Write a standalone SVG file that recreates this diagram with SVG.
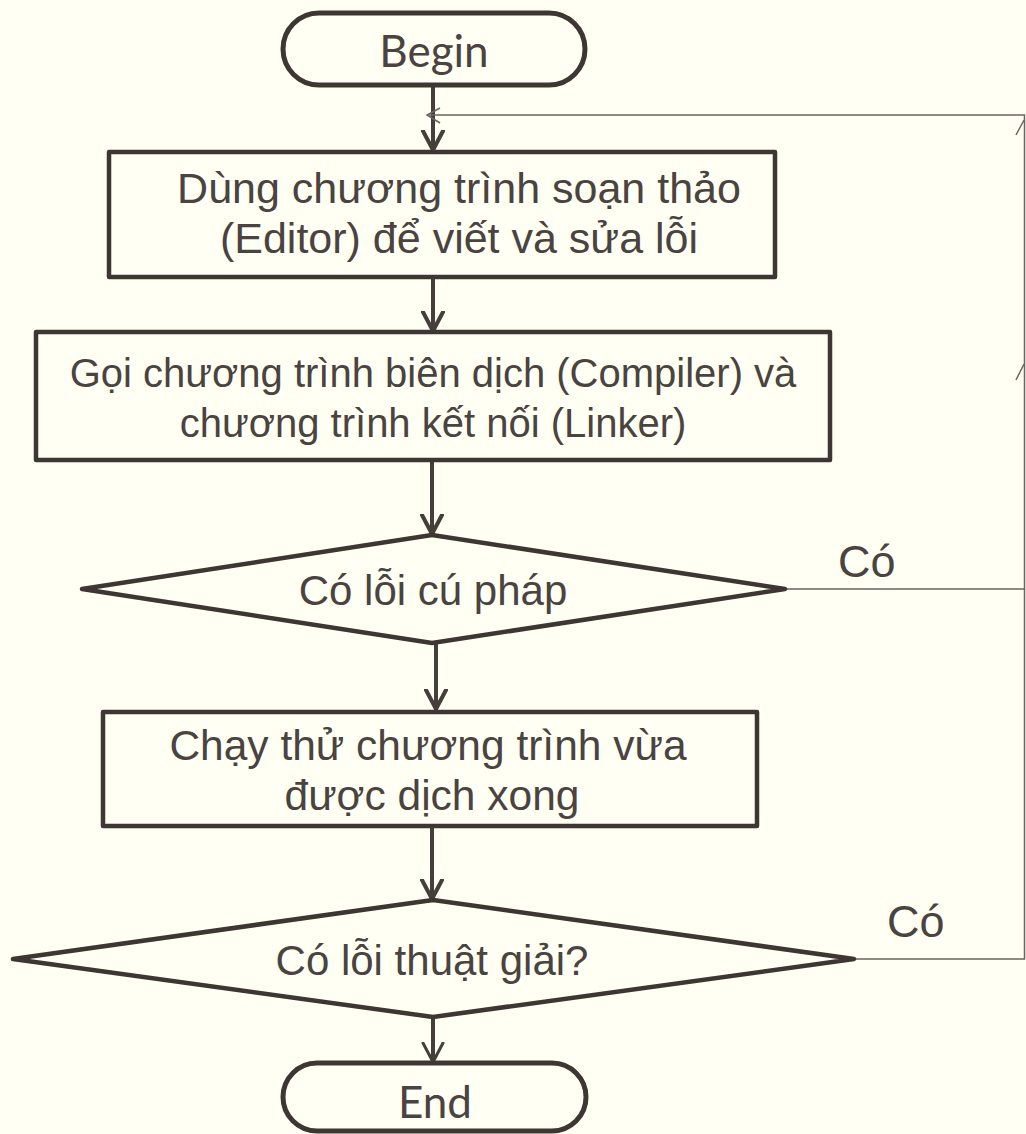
<svg xmlns="http://www.w3.org/2000/svg" width="1026" height="1134" viewBox="0 0 1026 1134">
  <defs>
    <style>
      .bg { fill: #FFFFF3; }
      .box { fill: none; stroke: #3d3633; stroke-width: 4.5; stroke-linejoin: round; }
      .term { fill: none; stroke: #3d3633; stroke-width: 5; }
      .flow { fill: none; stroke: #453e3b; stroke-width: 4; }
      .loop { fill: none; stroke: #6b6460; stroke-width: 1.5; }
      .txt { font-family: "Liberation Sans", Arial, sans-serif; fill: #4a4340; text-anchor: middle; }
      .term-txt { font-family: Lato, "Open Sans", sans-serif; font-size: 44px; fill: #4a4340; text-anchor: middle; }
      .lbl { font-family: "Liberation Sans", Arial, sans-serif; font-size: 45px; fill: #4a4340; }
    </style>
    <marker id="arrow" viewBox="0 0 24 24" markerWidth="24" markerHeight="24" refX="20" refY="12" orient="auto" markerUnits="userSpaceOnUse">
      <path d="M1,2 L20,12 L1,22" fill="none" stroke="#453e3b" stroke-width="4" stroke-linecap="round" stroke-linejoin="round"/>
    </marker>
    <marker id="arrow-thin" viewBox="0 0 24 24" markerWidth="24" markerHeight="24" refX="20" refY="12" orient="auto" markerUnits="userSpaceOnUse">
      <path d="M1,2 L20,12 L1,22" fill="none" stroke="#453e3b" stroke-width="3" stroke-linecap="round" stroke-linejoin="round"/>
    </marker>
  </defs>

  <rect class="bg" x="0" y="0" width="1026" height="1134"/>

  <!-- connectors -->
  <g id="connectors">
    <path class="flow" d="M433,85 V150" marker-end="url(#arrow)"/>
    <path class="flow" d="M433,277 V331" marker-end="url(#arrow)"/>
    <path class="flow" d="M432,460 V534" marker-end="url(#arrow)"/>
    <path class="flow" d="M436,643 V709" marker-end="url(#arrow)"/>
    <path class="flow" d="M432,826 V899" marker-end="url(#arrow)"/>
    <path class="flow" d="M433,1017 V1062" stroke-width="3" marker-end="url(#arrow-thin)"/>
    <!-- "Có" return paths back to the editor step -->
    <path class="loop" d="M785,589 H1024.5 V115 H429"/>
    <path class="loop" d="M854,959 H1024.5 V589"/>
    <polyline class="loop" points="440,108 427,115 440,123"/>
    <line class="loop" x1="1016" y1="135" x2="1024" y2="120"/>
    <line class="loop" x1="1016" y1="380" x2="1024" y2="364"/>
  </g>

  <g id="begin">
    <rect class="term" x="283" y="13" width="302" height="72" rx="36"/>
    <text class="term-txt" x="434" y="67">Begin</text>
  </g>

  <g id="edit">
    <rect class="box" x="109" y="152" width="666" height="125"/>
    <text class="txt" font-size="43" x="459" y="203">Dùng chương trình soạn thảo</text>
    <text class="txt" font-size="43" x="459" y="253">(Editor) để viết và sửa lỗi</text>
  </g>

  <g id="compile">
    <rect class="box" x="36" y="332" width="794" height="128"/>
    <text class="txt" font-size="40" x="433" y="387">Gọi chương trình biên dịch (Compiler) và</text>
    <text class="txt" font-size="40" x="433" y="437">chương trình kết nối (Linker)</text>
  </g>

  <g id="syntax-check">
    <polygon class="box" stroke-width="5" points="432,535 785,589 432,643 82,589"/>
    <text class="txt" font-size="42" x="433" y="605">Có lỗi cú pháp</text>
    <text class="lbl" x="838" y="577">Có</text>
  </g>

  <g id="run">
    <rect class="box" x="103" y="712" width="654" height="114"/>
    <text class="txt" font-size="42.5" x="428" y="760">Chạy thử chương trình vừa</text>
    <text class="txt" font-size="42.5" x="432" y="810">được dịch xong</text>
  </g>

  <g id="logic-check">
    <polygon class="box" stroke-width="5" points="433,900 854,959 433,1017 13,959"/>
    <text class="txt" font-size="42" x="432" y="975">Có lỗi thuật giải?</text>
    <text class="lbl" x="887" y="937">Có</text>
  </g>

  <g id="end">
    <rect class="term" stroke-width="4" x="283" y="1063" width="303" height="68" rx="34"/>
    <text class="term-txt" x="435" y="1118">End</text>
  </g>
</svg>
